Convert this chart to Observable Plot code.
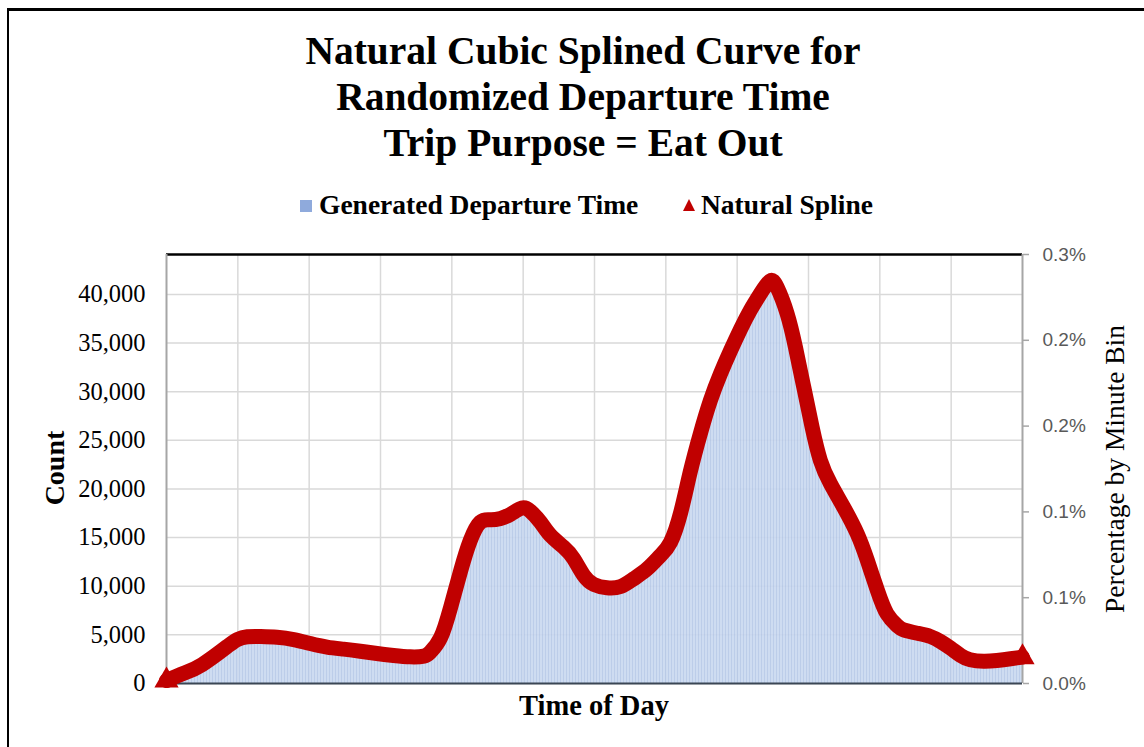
<!DOCTYPE html>
<html>
<head>
<meta charset="utf-8">
<script src="https://cdn.jsdelivr.net/npm/d3@7"></script>
<script src="https://cdn.jsdelivr.net/npm/@observablehq/plot@0.6"></script>
<style>
  html, body { margin: 0; padding: 0; background: #fff; overflow: hidden; width: 1144px; height: 747px; }
  body { position: relative; font-family: "Liberation Serif", "Times New Roman", serif; }
  #frame { position: absolute; left: 7px; top: 8px; width: 1200px; height: 800px; border-left: 2.5px solid #000; border-top: 3px solid #000; box-sizing: border-box; }
  #title { position: absolute; left: 233px; width: 700px; top: 28px; text-align: center; font-weight: bold; font-size: 39.5px; line-height: 46px; color: #000; }
  .leg { position: absolute; top: 189px; font-weight: bold; font-size: 27.5px; line-height: 32px; color: #000; white-space: nowrap; }
  .sq { position: absolute; width: 12px; height: 12px; background: #8FAADC; }
  .tri { position: absolute; width: 0; height: 0; border-left: 6.5px solid transparent; border-right: 6.5px solid transparent; border-bottom: 12px solid #C00000; }
  #chart { position: absolute; left: 0; top: 240px; }
  .lab { position: absolute; white-space: nowrap; color: #000; }
</style>
</head>
<body>
<div id="frame"></div>
<svg width="0" height="0" style="position:absolute">
  <defs>
    <pattern id="barfill" patternUnits="userSpaceOnUse" width="3" height="10">
      <rect x="0" y="0" width="3" height="10" fill="#C9D8F0"></rect>
      <rect x="2" y="0" width="1" height="10" fill="#B5C8E7"></rect>
    </pattern>
  </defs>
</svg>
<div id="title">Natural Cubic Splined Curve for<br>Randomized Departure Time<br>Trip Purpose = Eat Out</div>
<div class="sq" style="left:300px; top:200px;"></div>
<div class="leg" style="left:319px;">Generated Departure Time</div>
<div class="tri" style="left:683px; top:199px;"></div>
<div class="leg" style="left:701px;">Natural Spline</div>
<div id="chart"></div>
<div class="lab" style="left:594px; top:706px; transform: translate(-50%,-50%); font-weight:bold; font-size:28.5px;">Time of Day</div>
<div class="lab" style="left:55px; top:468px; transform: translate(-50%,-50%) rotate(-90deg); font-weight:bold; font-size:28px;">Count</div>
<div class="lab" style="left:1115px; top:469px; transform: translate(-50%,-50%) rotate(-90deg); font-size:27.5px;">Percentage by Minute Bin</div>
<script>
// Time of day in minutes since midnight
const minutes = [0, 29, 60, 102, 119, 136, 158, 186, 214, 242, 270, 298, 326, 354, 382, 410, 433, 444, 461,
  478, 495, 511, 528, 545, 562, 579, 598, 612, 629, 646, 668, 685, 702, 719, 741, 764, 786, 809, 831,
  848, 865, 881, 898, 915, 932, 949, 966, 982, 999, 1015, 1027, 1044, 1058, 1072, 1086, 1100, 1117, 1139, 1162,
  1179, 1196, 1212, 1229, 1240, 1263, 1285, 1302, 1319, 1336, 1352, 1375, 1397, 1420, 1440];
// Count per minute bin (natural spline knots)
const counts = [300, 1050, 1950, 3800, 4520, 4800, 4830, 4760, 4520, 4110, 3740, 3530, 3320, 3080, 2880, 2740, 2810, 3250, 4700,
  7850, 11620, 14700, 16590, 16830, 16970, 17410, 18030, 17720, 16590, 15220, 14020, 12820, 11100, 10180, 9840, 9970, 10770, 11800, 13160,
  14530, 17580, 21730, 25680, 29100, 31850, 34240, 36470, 38360, 40070, 41370, 40750, 38020, 34580, 30470, 26360, 22930, 20530, 18130, 15390,
  12650, 9560, 7170, 5960, 5520, 5170, 4830, 4320, 3630, 2880, 2440, 2290, 2370, 2540, 2710];
const countTicks = [0, 5000, 10000, 15000, 20000, 25000, 30000, 35000, 40000];
const countMax = 44100;
const pctTicks = [0, 0.0006, 0.0012, 0.0018, 0.0024, 0.003];
const pctLabels = ["0.0%", "0.1%", "0.1%", "0.2%", "0.2%", "0.3%"];
const pctMax = 0.003;
const hourGrid = [120, 240, 360, 480, 600, 720, 840, 960, 1080, 1200, 1320];

const data = minutes.map((t, i) => ({t, v: counts[i]}));
const ends = [data[0], data[data.length - 1]];
const rightTickCounts = pctTicks.map(p => p / pctMax * countMax);
const rightLabelMap = new Map(rightTickCounts.map((c, i) => [c, pctLabels[i]]));

const chart = Plot.plot({
  width: 1144,
  height: 507,
  marginTop: 14,
  marginLeft: 166,
  marginRight: 122,
  marginBottom: 64,
  style: {fontFamily: "Liberation Serif, Times New Roman, serif", background: "transparent", overflow: "visible"},
  x: {domain: [0, 1440], axis: null},
  y: {domain: [0, countMax], axis: null},
  marks: [
    Plot.gridY(countTicks, {stroke: "#D9D9D9", strokeOpacity: 1, strokeWidth: 1.5}),
    Plot.gridX(hourGrid, {stroke: "#D9D9D9", strokeOpacity: 1, strokeWidth: 1.5}),
    Plot.areaY(data, {x: "t", y: "v", curve: "natural", fill: "url(#barfill)", fillOpacity: 0.9}),
    Plot.ruleY([countMax], {stroke: "#000", strokeWidth: 2.5}),
    Plot.ruleX([0], {stroke: "#A6A6A6", strokeWidth: 2}),
    Plot.ruleX([1440], {stroke: "#A6A6A6", strokeWidth: 2}),
    Plot.ruleY([0], {stroke: "#3B4654", strokeWidth: 2}),
    Plot.axisY(countTicks, {anchor: "left", tickSize: 0, tickPadding: 21, tickFormat: d3.format(","), fontSize: 24.5, fill: "#000", label: null}),
    Plot.axisY(rightTickCounts, {anchor: "right", tickSize: 6, tickPadding: 14, stroke: "#A6A6A6", strokeWidth: 1.5,
      tickFormat: d => rightLabelMap.get(d), fontSize: 19, fontFamily: "Liberation Sans, Arial, sans-serif", fill: "#595959", label: null}),
    Plot.line(data, {x: "t", y: "v", curve: "natural", stroke: "#C00000", strokeWidth: 15, strokeLinejoin: "round", strokeLinecap: "round"}),
    Plot.dot(ends, {x: "t", y: "v", symbol: "triangle", r: 9, fill: "#C00000"})
  ]
});
document.getElementById("chart").appendChild(chart);
</script>
</body>
</html>
